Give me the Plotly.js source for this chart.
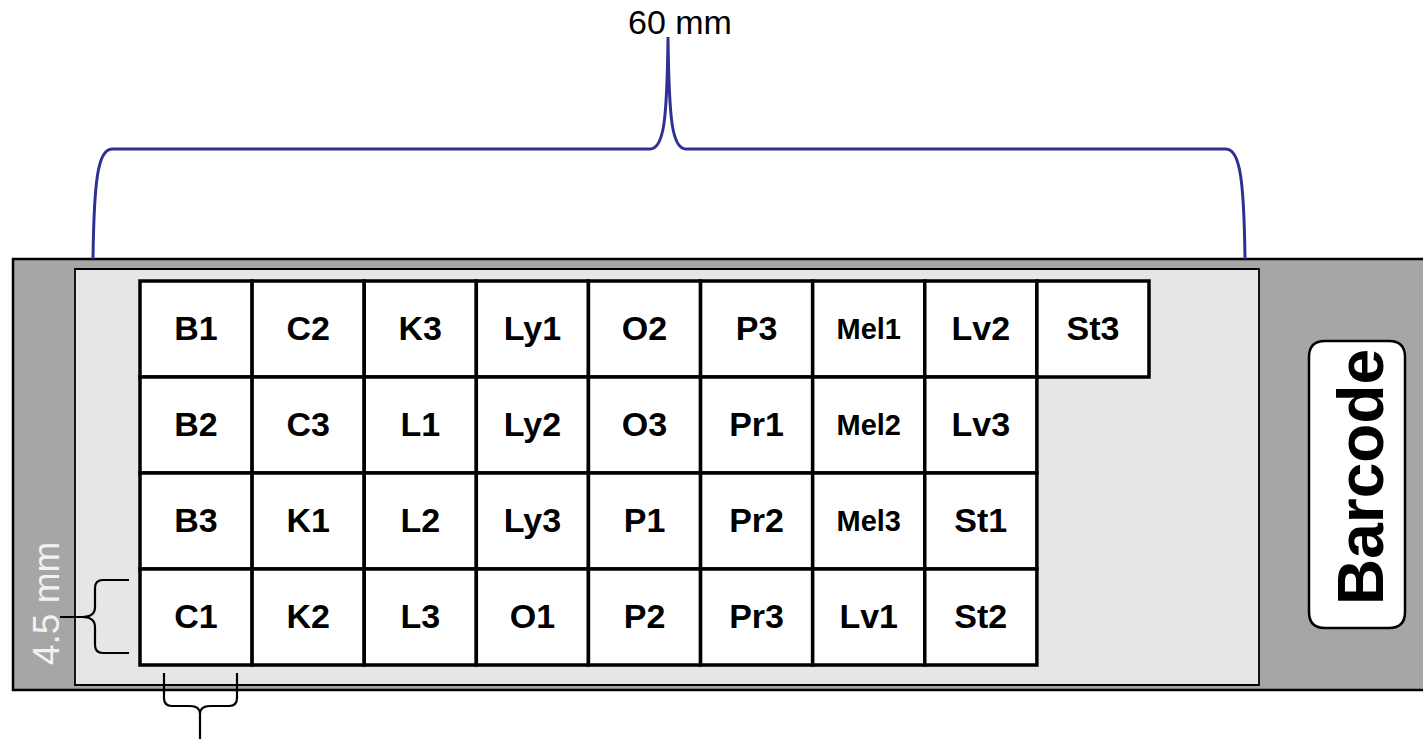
<!DOCTYPE html>
<html>
<head>
<meta charset="utf-8">
<script src="https://cdn.plot.ly/plotly-3.0.1.min.js"></script>
<style>html,body{margin:0;padding:0;background:#fff;}#chart{width:1423px;height:739px;}</style>
</head>
<body>
<div id="chart"></div>
<script>
// Tissue layout (rows top to bottom, columns left to right)
const row1 = ["B1", "C2", "K3", "Ly1", "O2", "P3", "Mel1", "Lv2", "St3"];
const row2 = ["B2", "C3", "L1", "Ly2", "O3", "Pr1", "Mel2", "Lv3"];
const row3 = ["B3", "K1", "L2", "Ly3", "P1", "Pr2", "Mel3", "St1"];
const row4 = ["C1", "K2", "L3", "O1", "P2", "Pr3", "Lv1", "St2"];
const rows = [row1, row2, row3, row4];

const widthLabel = "60 mm";
const cellLabel = "4.5 mm";
const barcodeLabel = "Barcode";

// geometry (pixel-like units of the drawing)
const W = 1423, H = 739;
const gridX0 = 140, gridY0 = 281, cellW = (1149 - 140) / 9, cellH = 96;
const labelDy = 2.5;
const FONT = "Liberation Sans, Arial, sans-serif";

const shapes = [];
// slide body
shapes.push({type: "rect", layer: "below", x0: 13, x1: 1440, y0: 259, y1: 690,
  fillcolor: "#a6a6a6", line: {color: "#000", width: 2.5}});
// tissue area
shapes.push({type: "rect", layer: "below", x0: 75, x1: 1259, y0: 269, y1: 685,
  fillcolor: "#e6e6e6", line: {color: "#000", width: 1.8}});

const tx = [], ty = [], tt = [], ts = [];
rows.forEach((r, ri) => {
  r.forEach((lab, ci) => {
    const x0 = gridX0 + ci * cellW, y0 = gridY0 + ri * cellH;
    shapes.push({type: "rect", layer: "below", x0: x0, x1: x0 + cellW, y0: y0, y1: y0 + cellH,
      fillcolor: "#fff", line: {color: "#000", width: 3.5}});
    tx.push(x0 + cellW / 2);
    ty.push(y0 + cellH / 2 + labelDy);
    tt.push(lab);
    ts.push(lab.startsWith("Mel") ? 29 : 34);
  });
});

// barcode rounded box
const bx0 = 1309, bx1 = 1405, by0 = 341, by1 = 628, r = 16;
shapes.push({type: "path", layer: "below",
  path: `M${bx0 + r},${by0} L${bx1 - r},${by0} Q${bx1},${by0} ${bx1},${by0 + r} L${bx1},${by1 - r} Q${bx1},${by1} ${bx1 - r},${by1} L${bx0 + r},${by1} Q${bx0},${by1} ${bx0},${by1 - r} L${bx0},${by0 + r} Q${bx0},${by0} ${bx0 + r},${by0} Z`,
  fillcolor: "#fff", line: {color: "#000", width: 2.5}});

// top brace (60 mm)
shapes.push({type: "path", layer: "above",
  path: "M93,259 C94,180 98,149 112,149 L650,149 C664,149 667,120 668,37 C669,120 672,149 686,149 L1226,149 C1240,149 1244,180 1245,259",
  line: {color: "#2e3192", width: 3}});

// left brace (4.5 mm)
shapes.push({type: "path", layer: "above",
  path: "M129,580 L103,580 Q95,580 95,588 L95,607 Q95,617 82,617 Q95,617 95,627 L95,645 Q95,653 103,653 L129,653 M82,617 L60,617",
  line: {color: "#000", width: 2.2}});

// bottom brace
shapes.push({type: "path", layer: "above",
  path: "M164,673 L164,698 Q164,706 172,706 L190,706 Q200,706 200,714 Q200,706 210,706 L229,706 Q237,706 237,698 L237,673 M200,714 L200,745",
  line: {color: "#000", width: 2.2}});

const annotations = [
  {x: 680, y: 22, xref: "x", yref: "y", text: widthLabel, showarrow: false,
   font: {family: FONT, size: 34, color: "#000"}},
  {x: 46, y: 604, xref: "x", yref: "y", text: cellLabel, showarrow: false, textangle: -90,
   font: {family: FONT, size: 37, color: "#f2f2f2"}},
  {x: 1361, y: 477, xref: "x", yref: "y", text: barcodeLabel, showarrow: false, textangle: -90,
   font: {family: FONT, size: 64, color: "#000", weight: 700}}
];

const trace = {
  type: "scatter", mode: "text", x: tx, y: ty, text: tt,
  textposition: "middle center",
  textfont: {family: FONT, size: ts, color: "#000", weight: 700},
  hoverinfo: "none", showlegend: false
};

const layout = {
  width: W, height: H,
  margin: {l: 0, r: 0, t: 0, b: 0, pad: 0},
  paper_bgcolor: "#fff", plot_bgcolor: "#fff",
  xaxis: {range: [0, W], visible: false, fixedrange: true},
  yaxis: {range: [H, 0], visible: false, fixedrange: true},
  shapes: shapes, annotations: annotations, showlegend: false
};

Plotly.newPlot("chart", [trace], layout, {staticPlot: true, displayModeBar: false});
</script>
</body>
</html>
